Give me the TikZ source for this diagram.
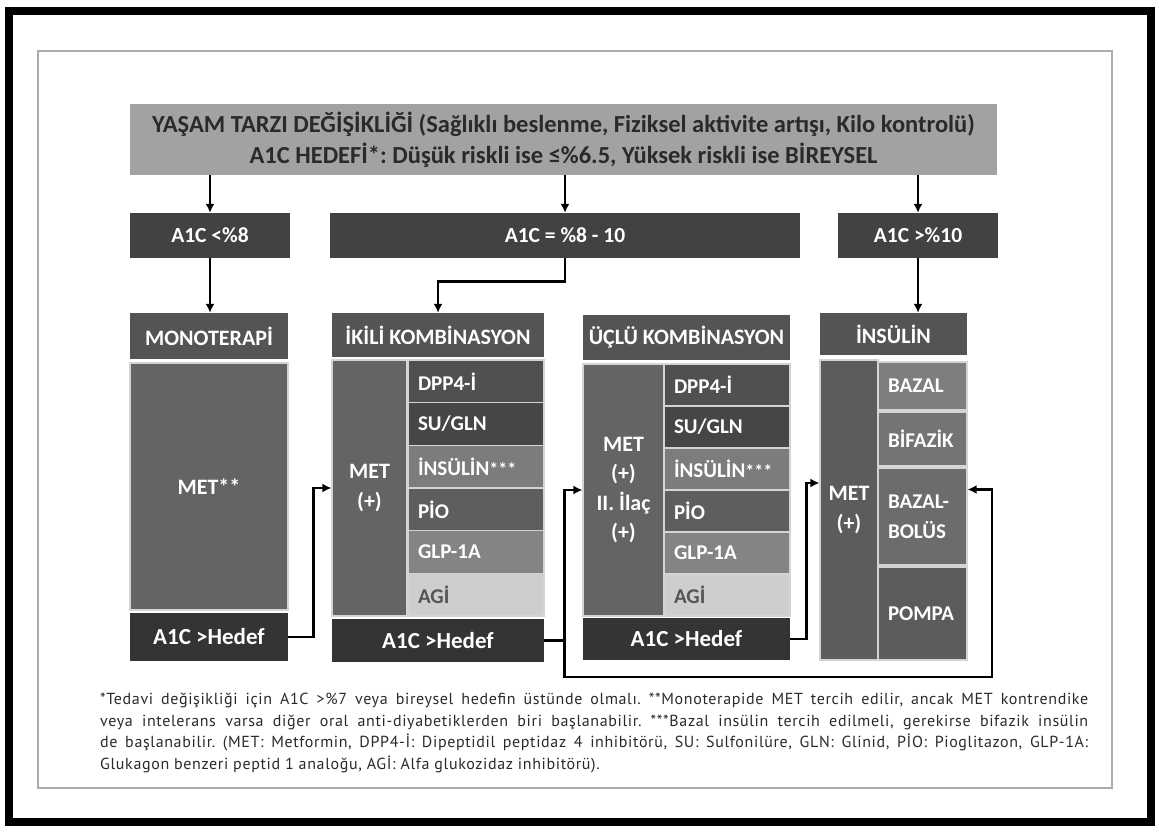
\documentclass[tikz,border=0pt]{standalone}
\usepackage{fontspec}
\setmainfont{Carlito}
\newfontfamily\notefont{PT Sans}[LetterSpace=4]
\usetikzlibrary{arrows.meta}
\frenchspacing
\definecolor{chart_banner}{RGB}{162,162,162}
\definecolor{chart_level}{RGB}{66,66,66}
\definecolor{chart_head}{RGB}{84,84,84}
\definecolor{chart_body}{RGB}{100,100,100}
\definecolor{chart_fail}{RGB}{52,52,52}
\definecolor{chart_dpp}{RGB}{80,80,80}
\definecolor{chart_su}{RGB}{70,70,70}
\definecolor{chart_ins}{RGB}{124,124,124}
\definecolor{chart_pio}{RGB}{94,94,94}
\definecolor{chart_glp}{RGB}{132,132,132}
\definecolor{chart_agi}{RGB}{206,206,206}
\definecolor{chart_bazal}{RGB}{126,126,126}
\definecolor{chart_bifazik}{RGB}{116,116,116}
\definecolor{chart_bolus}{RGB}{108,108,108}
\definecolor{chart_pompa}{RGB}{92,92,92}
\definecolor{chart_text}{RGB}{42,42,42}
\definecolor{chart_sep}{RGB}{212,212,212}
\definecolor{chart_frame}{RGB}{172,172,172}
\tikzstyle{banner} = [rectangle, inner sep=0pt, align=center, fill=chart_banner, text=chart_text, font=\fontsize{24.5}{31}\selectfont\bfseries]
\tikzstyle{level} = [rectangle, inner sep=0pt, align=center, fill=chart_level, text=white, font=\fontsize{21.5}{24}\selectfont\bfseries]
\tikzstyle{colhead} = [rectangle, inner sep=0pt, align=center, fill=chart_head, text=white, font=\fontsize{22}{25}\selectfont\bfseries]
\tikzstyle{colbody} = [rectangle, inner sep=0pt, align=center, fill=chart_body, draw=chart_sep, line width=1.2pt, text=white, font=\fontsize{22}{29.5}\selectfont\bfseries]
\tikzstyle{drug} = [rectangle, inner xsep=10pt, inner ysep=0pt, align=left, draw=chart_sep, line width=1.2pt, text=white, font=\fontsize{21}{30}\selectfont\bfseries]
\tikzstyle{fail} = [rectangle, inner sep=0pt, align=center, fill=chart_fail, text=white, font=\fontsize{23}{26}\selectfont\bfseries]
\tikzstyle{arrow} = [line width=2.6pt, -{Latex[length=9pt, width=9pt]}]

\begin{document}
\begin{tikzpicture}[x=1pt, y=-1pt]
    \useasboundingbox (0,0) rectangle (1159,831);
    \draw [line width=8pt] (9,11) rectangle (1151,822);
    \draw [chart_frame, line width=2pt] (38,51) rectangle (1112,788);

    \node (lifestyle) [banner, minimum width=867pt, minimum height=71pt] at (563.5,139.5) {YAŞAM TARZI DEĞİŞİKLİĞİ (Sağlıklı beslenme, Fiziksel aktivite artışı, Kilo kontrolü) \\ A1C HEDEFİ*: Düşük riskli ise ≤\%6.5, Yüksek riskli ise BİREYSEL};

    \node (lowaone) [level, minimum width=160pt, minimum height=45pt] at (210,235.5) {A1C <\%8};
    \node (midaone) [level, minimum width=470pt, minimum height=45pt] at (565,235.5) {A1C = \%8 - 10};
    \node (highaone) [level, minimum width=160pt, minimum height=45pt] at (918,235.5) {A1C >\%10};

    % monoterapi
    \node (monohead) [colhead, minimum width=158pt, minimum height=46pt] at (209,336) {MONOTERAPİ};
    \node (monobody) [colbody, minimum width=158pt, minimum height=247pt] at (209,486.5) {MET**};
    \node (monofail) [fail, minimum width=158pt, minimum height=48pt] at (209,637) {A1C >Hedef};

    % ikili kombinasyon
    \node (duohead) [colhead, minimum width=212pt, minimum height=44pt] at (438,335) {İKİLİ KOMBİNASYON};
    \node (duomet) [colbody, minimum width=75pt, minimum height=256pt] at (369.5,488) {MET\\(+)};
    \node (duodpp) [drug, fill=chart_dpp, text width=116pt, minimum height=42.7pt] at (476,381.3) {DPP4-İ};
    \node (duosu) [drug, fill=chart_su, text width=116pt, minimum height=42.7pt] at (476,424) {SU/GLN};
    \node (duoins) [drug, fill=chart_ins, text width=116pt, minimum height=42.7pt] at (476,466.7) {İNSÜLİN{\fontsize{18}{18}\selectfont***}};
    \node (duopio) [drug, fill=chart_pio, text width=116pt, minimum height=42.7pt] at (476,509.3) {PİO};
    \node (duoglp) [drug, fill=chart_glp, text width=116pt, minimum height=42.7pt] at (476,552) {GLP-1A};
    \node (duoagi) [drug, fill=chart_agi, text=chart_text!80, text width=116pt, minimum height=42.7pt] at (476,594.7) {AGİ};
    \node (duofail) [fail, minimum width=212pt, minimum height=43pt] at (438,640.5) {A1C >Hedef};

    % uclu kombinasyon
    \node (triohead) [colhead, minimum width=207pt, minimum height=45pt] at (686.5,337) {ÜÇLÜ KOMBİNASYON};
    \node (triomet) [colbody, minimum width=81pt, minimum height=252pt] at (623.5,490) {MET\\(+)\\II. İlaç\\(+)};
    \node (triodpp) [drug, fill=chart_dpp, text width=106pt, minimum height=42pt] at (727,385) {DPP4-İ};
    \node (triosu) [drug, fill=chart_su, text width=106pt, minimum height=42pt] at (727,427) {SU/GLN};
    \node (trioins) [drug, fill=chart_ins, text width=106pt, minimum height=42pt] at (727,469) {İNSÜLİN{\fontsize{18}{18}\selectfont***}};
    \node (triopio) [drug, fill=chart_pio, text width=106pt, minimum height=42pt] at (727,511) {PİO};
    \node (trioglp) [drug, fill=chart_glp, text width=106pt, minimum height=42pt] at (727,553) {GLP-1A};
    \node (trioagi) [drug, fill=chart_agi, text=chart_text!80, text width=106pt, minimum height=42pt] at (727,595) {AGİ};
    \node (triofail) [fail, minimum width=207pt, minimum height=42pt] at (686.5,639) {A1C >Hedef};

    % insulin
    \node (insuhead) [colhead, minimum width=147pt, minimum height=42pt] at (893.5,334) {İNSÜLİN};
    \node (insumet) [colbody, fill=chart_pompa, minimum width=58pt, minimum height=300pt] at (849,510) {MET\\(+)};
    \node (bazal) [drug, fill=chart_bazal, text width=69pt, minimum height=48pt] at (922.5,386) {BAZAL};
    \node (bifazik) [drug, fill=chart_bifazik, text width=69pt, minimum height=54pt] at (922.5,439) {BİFAZİK};
    \node (bolus) [drug, fill=chart_bolus, text width=69pt, minimum height=97pt] at (922.5,516.5) {BAZAL-\\BOLÜS};
    \node (pompa) [drug, fill=chart_pompa, text width=69pt, minimum height=93pt] at (922.5,613.5) {POMPA};

    \node (footnote) [anchor=north west, inner sep=0pt, text width=988pt, align=justify, text=chart_text, font=\notefont\fontsize{16}{21.5}\selectfont] at (100,693) {*Tedavi değişikliği için A1C >\%7 veya bireysel hedefin üstünde olmalı. **Monoterapide MET tercih edilir, ancak MET kontrendike\linebreak veya intelerans varsa diğer oral anti-diyabetiklerden biri başlanabilir. ***Bazal insülin tercih edilmeli, gerekirse bifazik insülin\linebreak de başlanabilir. (MET: Metformin, DPP4-İ: Dipeptidil peptidaz 4 inhibitörü, SU: Sulfonilüre, GLN: Glinid, PİO: Pioglitazon, GLP-1A:\linebreak Glukagon benzeri peptid 1 analoğu, AGİ: Alfa glukozidaz inhibitörü).};

    \draw [arrow] (lifestyle.south -| lowaone.north) -- (lowaone.north);
    \draw [arrow] (lifestyle.south -| midaone.north) -- (midaone.north);
    \draw [arrow] (lifestyle.south -| highaone.north) -- (highaone.north);

    \draw [arrow] (lowaone.south) -- (lowaone.south |- monohead.north);
    \draw [arrow] (midaone.south) -- ++(0,23) -| (duohead.north);
    \draw [arrow] (highaone.south) -- (highaone.south |- insuhead.north);

    \draw [arrow] (monofail.east) -- ++(25,0) |- (duomet.west);
    \draw [arrow] (duofail.east) -- ++(20,0) coordinate (split) |- (triomet.west);
    \coordinate (loopcorner) at (992,677);
    \draw [arrow] (split) |- (loopcorner) |- ([yshift=27pt]bolus.east);
    \draw [arrow] (triofail.east) -- ++(16,0) |- ([yshift=27pt]insumet.west);
\end{tikzpicture}
\end{document}
